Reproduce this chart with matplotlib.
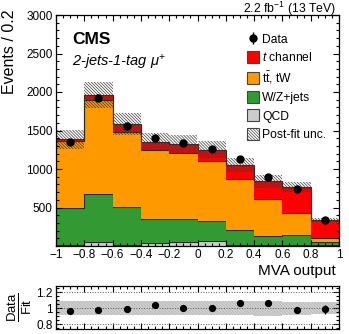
import numpy as np
from matplotlib import pyplot as plt
from matplotlib.patches import Patch
from matplotlib.ticker import MultipleLocator, FixedLocator

plt.rcParams['font.family'] = ['Liberation Sans', 'DejaVu Sans']
plt.rcParams['mathtext.fontset'] = 'custom'
plt.rcParams['mathtext.rm'] = 'Liberation Sans'
plt.rcParams['mathtext.it'] = 'Liberation Sans:italic'
plt.rcParams['hatch.linewidth'] = 0.5

# Binned MVA output.
edges = [-1.0, -0.8, -0.6, -0.4, -0.2, 0.0, 0.2, 0.4, 0.6, 0.8, 1.0]
qcd = [10, 50, 10, 35, 50, 70, 10, 10, 15, 10]
wzjets = [485, 621, 495, 320, 303, 260, 201, 126, 130, 47]
ttbar = [873, 1228, 978, 886, 858, 771, 658, 469, 285, 44]
tchan = [17, 66, 100, 109, 118, 149, 184, 233, 337, 237]
unc = [120, 170, 140, 120, 118, 110, 92, 80, 65, 26]
data = [1345, 1925, 1562, 1408, 1340, 1258, 1127, 895, 746, 333]

edges = np.array(edges)
centers = 0.5 * (edges[:-1] + edges[1:])
width = edges[1] - edges[0]
HATCH = '\\' * 11

fig = plt.figure(figsize=(3.49, 3.34), dpi=100)
ax = fig.add_axes([56/349, 1-246/334, 283/349, 231/334])
rax = fig.add_axes([56/349, 1-329/334, 283/349, 43/334])

# Stacked backgrounds.
stack = [(qcd, '#cccccc'), (wzjets, '#339933'), (ttbar, '#ff9900'), (tchan, '#ff0000')]
base = np.zeros(len(centers))
for vals, col in stack:
    top = base + np.array(vals)
    ax.stairs(top, edges, baseline=base, fill=True, color=col)
    ax.stairs(top, edges, baseline=None, color='#2a2a2a', lw=0.8)
    base = top
total = base
unc = np.array(unc)
data = np.array(data)

ax.bar(centers, 2*unc, bottom=total-unc, width=width, fill=False,
       hatch=HATCH, edgecolor='#3a3a3a', linewidth=0)
eb = ax.errorbar(centers, data, yerr=np.sqrt(data), fmt='o', color='k',
                 ms=5, elinewidth=1, capsize=0)

ax.set_xlim(-1, 1)
ax.set_ylim(0, 3000)
ax.yaxis.set_major_locator(FixedLocator([500, 1000, 1500, 2000, 2500, 3000]))
ax.yaxis.set_minor_locator(MultipleLocator(100))
ax.xaxis.set_minor_locator(MultipleLocator(0.05))
ax.set_xticks(edges)
ax.set_xticklabels(['\u22121', '\u22120.8', '\u22120.6', '\u22120.4', '\u22120.2',
                    '0', '0.2', '0.4', '0.6', '0.8', '1'])

for a in (ax, rax):
    a.tick_params(axis='both', which='both', direction='in', top=True, right=True,
                  labelsize=8.5, width=0.8)
    a.tick_params(which='major', length=4.5)
    a.tick_params(which='minor', length=2.2)
    for s in a.spines.values():
        s.set_linewidth(0.9)
ax.tick_params(axis='x', pad=2.5)
ax.tick_params(axis='y', pad=2.5)

fig.text(10/349, 1-10/334, 'Events / 0.2', fontsize=11.5, rotation=90,
         ha='center', va='top')
fig.text(336/349, 1-271/334, 'MVA output', ha='right', va='center', fontsize=11)

fig.text(72/349, 1-39/334, 'CMS', fontsize=12.5, fontweight='bold', va='center')
fig.text(72/349, 1-62/334, r'2-jets-1-tag $\mu^{+}$', fontsize=10.5,
         style='italic', va='center')
fig.text(336/349, 1-9/334, r'2.2 fb$^{-1}$ (13 TeV)', fontsize=8.8,
         ha='right', va='center')

handles = [eb,
           Patch(facecolor='#ff0000', edgecolor='#444444', lw=0.8),
           Patch(facecolor='#ff9900', edgecolor='#444444', lw=0.8),
           Patch(facecolor='#339933', edgecolor='#444444', lw=0.8),
           Patch(facecolor='#cccccc', edgecolor='#444444', lw=0.8),
           Patch(facecolor='white', edgecolor='#444444', lw=0.8, hatch=HATCH)]
labels = ['Data', r'$t$ channel', r't$\bar{\mathrm{t}}$, tW', 'W/Z+jets', 'QCD',
          'Post-fit unc.']
ax.legend(handles, labels, loc='upper left', bbox_to_anchor=(0.674, 0.922),
          frameon=False, fontsize=8.7, handlelength=1.05, handleheight=1.15,
          labelspacing=0.43, handletextpad=0.25, borderpad=0, borderaxespad=0)

# Ratio panel.
rel = unc / total
rax.stairs(1 + rel, edges, baseline=1 - rel, fill=True, facecolor='#d4d4d4',
           edgecolor='#b0b0b0', hatch=HATCH, lw=0)
ratio = data / total
rax.errorbar(centers, ratio, yerr=np.sqrt(data)/total, fmt='o', color='k',
             ms=4.2, elinewidth=1, capsize=0)
for yv in (0.8, 1.0, 1.2):
    rax.axhline(yv, color='#555555', ls=':', lw=0.7)
rax.set_xlim(-1, 1)
rax.set_ylim(0.74, 1.28)
rax.set_yticks([0.8, 1.0, 1.2])
rax.set_yticklabels(['0.8', '1', '1.2'])
rax.yaxis.set_minor_locator(MultipleLocator(0.05))
rax.xaxis.set_major_locator(MultipleLocator(0.2))
rax.xaxis.set_minor_locator(MultipleLocator(0.05))
rax.tick_params(axis='x', labelbottom=False)
rax.tick_params(axis='y', pad=2.5)
fig.text(20/349, 1-307/334, r'$\frac{\mathrm{Data}}{\mathrm{Fit}}$', fontsize=13.5,
         rotation=90, ha='center', va='center')

fig.savefig('out.png', dpi=100)
